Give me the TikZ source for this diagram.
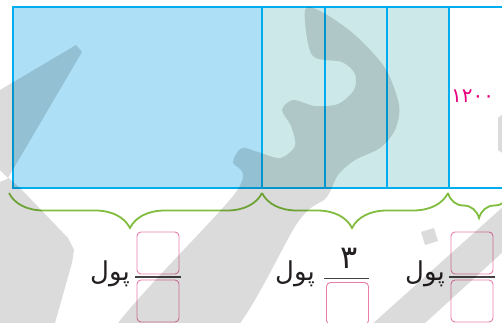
\documentclass[tikz,border=0pt]{standalone}
\usepackage{fontspec}
\newfontfamily\arabicfont[Script=Arabic]{DejaVu Sans}
\TeXXeTstate=1
\usetikzlibrary{decorations.pathreplacing}

\definecolor{barblue}{RGB}{173,224,247}
\definecolor{barteal}{RGB}{204,232,232}
\definecolor{bordercyan}{RGB}{0,174,239}
\definecolor{bracegreen}{RGB}{128,189,62}
\definecolor{boxpink}{RGB}{233,125,170}
\definecolor{amountpink}{RGB}{230,0,126}
\definecolor{inkdark}{RGB}{35,31,32}

\tikzset{
  cellline/.style={draw=bordercyan, line width=1.7pt},
  outline/.style={draw=bordercyan, line width=2.2pt},
  curly/.style={draw=bracegreen, line width=1.8pt, decorate},
  numbox/.style={draw=boxpink, rounded corners=4pt, minimum width=42pt,
    minimum height=42pt, inner sep=0pt, line width=0.9pt},
  pooltext/.style={font=\arabicfont\fontsize{26}{30}\selectfont, text=inkdark, inner sep=0pt},
  fracline/.style={draw=inkdark!85, line width=1.2pt},
  wmark/.style={fill=black, opacity=0.14},
}

\begin{document}
\begin{tikzpicture}[x=1pt,y=-1pt]
\useasboundingbox (0,0) rectangle (502,323);

% the bar
\coordinate (topL) at (13,7);
\coordinate (botL) at (13,188);
\fill[barblue] (13,7) rectangle (262,188);
\fill[barteal] (262,7) rectangle (449,188);
\foreach \x in {262,325,387,449}
  \draw[cellline] (\x,7) -- (\x,188);
\draw[outline] (515,7) -- (topL) -- (botL) -- (515,188);
\node[anchor=west, text=amountpink, inner sep=0pt,
  font=\arabicfont\fontsize{20}{24}\selectfont] (amount) at (451,96) {۱۲۰۰};

% braces under the bar
\draw[curly, decoration={brace, mirror, amplitude=35pt, aspect=0.478}] (9,193) -- (262,193);
\draw[curly, decoration={brace, mirror, amplitude=35pt, aspect=0.484}] (262,193) -- (448,193);
\draw[curly, decoration={brace, mirror, amplitude=25pt}] (448,193) -- (510,193);

% first share
\node[pooltext] (pool1) at (110,274) {\beginR پول\endR};
\node[numbox] (num1) at (158,253) {};
\node[numbox] (den1) at (158,301) {};
\draw[fracline] (135,277) -- (181,277);

% second share
\node[pooltext] (pool2) at (295,274) {\beginR پول\endR};
\node[font=\arabicfont\fontsize{32}{36}\selectfont, text=inkdark, inner sep=0pt] (num2) at (349,258) {۳};
\node[numbox] (den2) at (347.5,303.5) {};
\draw[fracline] (324,278.5) -- (369,278.5);

% third share
\node[pooltext] (pool3) at (425,274) {\beginR پول\endR};
\node[numbox] (num3) at (472,253) {};
\node[numbox] (den3) at (472,301) {};
\draw[fracline] (449,277) -- (495,277);

% watermark
\fill[wmark] (76,45) -- (82,52) -- (8,178) -- (0,170) -- (0,90) -- cycle;
\fill[wmark] (0,182) -- (9,178) -- (22,190) -- (68,238) -- (74,250) -- (72,263) -- (53,330) -- (0,330) -- cycle;
\fill[wmark] plot[smooth cycle, tension=0.5] coordinates {
  (305,10) (322,12) (355,35) (385,68) (399,105) (395,130) (380,148)
  (355,160) (338,175) (326,198) (298,222) (220,345) (105,345) (236,192)
  (233,162) (242,148) (258,152) (280,158) (295,146) (291,126) (282,110)
  (293,100) (315,106) (338,104) (354,90) (355,74) (342,62) (312,55)};
\fill[wmark] (360,335) -- (412,335) -- (505,250) -- (505,205) -- cycle;
\fill[wmark] (421,232) -- (434,228) -- (438,241) -- (425,245) -- cycle;
\fill[wmark] (498,118) -- (505,112) -- (505,155) -- (498,150) -- cycle;
\end{tikzpicture}
\end{document}
